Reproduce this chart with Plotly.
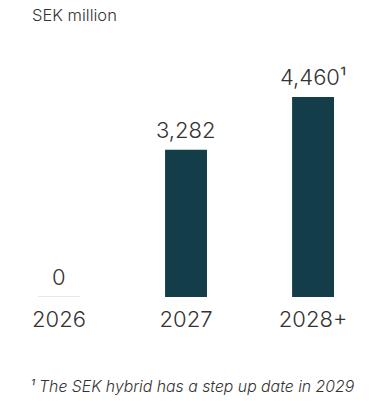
import plotly.graph_objects as go

categories = ["2026", "2027", "2028+"]
values = [0, 3282, 4460]
value_labels = ["0", "3,282", "4,460¹"]
unit_label = "SEK million"
footnote = "¹ The SEK hybrid has a step up date in 2029"

BAR = "#143d4a"
TXT = "#333333"
FONT = "Inter"
W8 = 300
bar_w = 0.33
T, B, H = 60, 104, 401
PH = H - T - B

fig = go.Figure()
fig.add_trace(go.Bar(
    x=categories, y=values, width=bar_w,
    marker=dict(color=BAR, line=dict(width=0)),
    hoverinfo="skip",
))

annotations = []
shapes = []
for i, (v, t) in enumerate(zip(values, value_labels)):
    annotations.append(dict(x=i, y=v, text=t, showarrow=False, xref="x", yref="y",
                            yanchor="bottom", yshift=5,
                            font=dict(family=FONT, size=22, color=TXT, weight=W8)))
    if v == 0:
        shapes.append(dict(type="line", xref="x", yref="y",
                           x0=i - bar_w / 2, x1=i + bar_w / 2, y0=0, y1=0,
                           line=dict(color="#d0d0d8", width=1)))

annotations.append(dict(text=unit_label, xref="paper", yref="paper",
                        x=30 / 373, y=1 + (T - 15) / PH, xanchor="left", yanchor="middle",
                        showarrow=False, font=dict(family=FONT, size=16.5, color=TXT, weight=W8)))
annotations.append(dict(text="<i>" + footnote + "</i>", xref="paper", yref="paper",
                        x=28 / 373, y=-(386 - (H - B)) / PH, xanchor="left", yanchor="middle",
                        showarrow=False, font=dict(family=FONT, size=15.8, color=TXT, weight=W8)))

fig.update_layout(
    width=373, height=H,
    margin=dict(l=0, r=0, t=T, b=B),
    paper_bgcolor="white", plot_bgcolor="white",
    showlegend=False,
    font=dict(family=FONT, color=TXT),
    annotations=annotations,
    shapes=shapes,
    xaxis=dict(type="category", range=[-0.4646, 2.472], showgrid=False, zeroline=False,
               showline=False, ticks="outside", ticklen=3, tickcolor="rgba(0,0,0,0)",
               tickfont=dict(family=FONT, size=22, color=TXT, weight=W8), fixedrange=True),
    yaxis=dict(range=[0, 4460 * PH / 200], visible=False, fixedrange=True),
)

fig.write_html("out.html")
